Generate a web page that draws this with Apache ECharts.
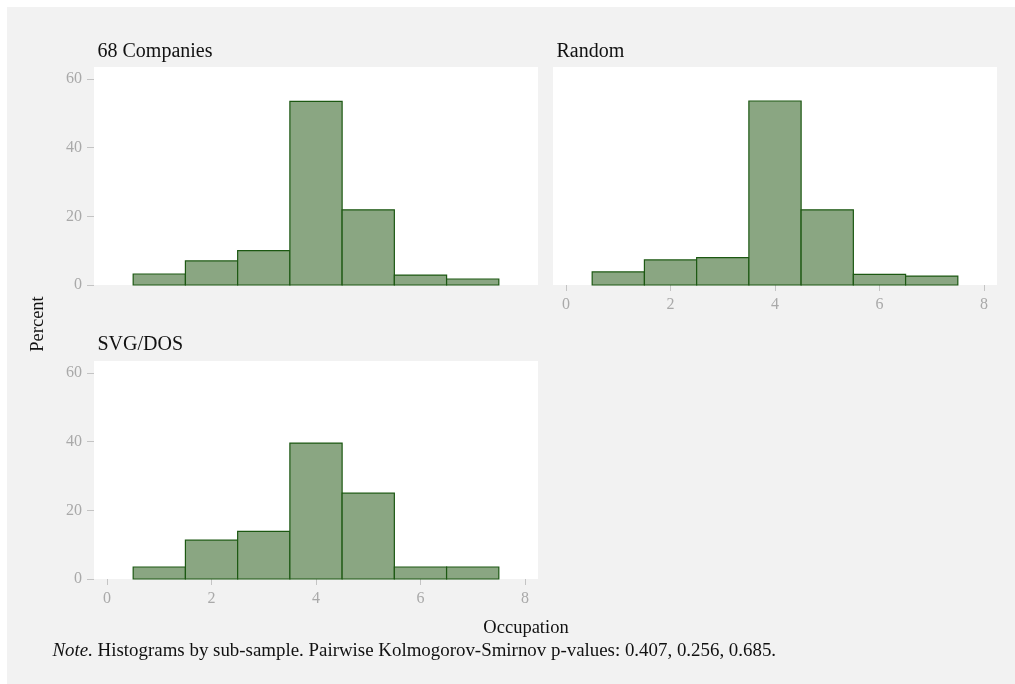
<!DOCTYPE html>
<html>
<head>
<meta charset="utf-8">
<script src="https://cdn.jsdelivr.net/npm/echarts@6/dist/echarts.min.js"></script>
<style>
html,body{margin:0;padding:0;background:#ffffff;}
#chart{position:absolute;left:7px;top:7px;width:1008px;height:677px;}
</style>
</head>
<body>
<div id="chart"></div>
<script>
// Data
const occupation = [1, 2, 3, 4, 5, 6, 7];
const panelTitles = ['68 Companies', 'Random', 'SVG/DOS'];
const companies = [3.2, 7.0, 10.0, 53.5, 21.9, 2.9, 1.75];
const randomSample = [3.8, 7.3, 8.0, 53.6, 21.9, 3.1, 2.6];
const svgdos = [3.5, 11.3, 13.9, 39.6, 25.0, 3.5, 3.5];
const yTicks = [0, 20, 40, 60];
const xTicks = [0, 2, 4, 6, 8];
const yLabel = 'Percent';
const xLabel = 'Occupation';
const noteText = 'Histograms by sub-sample. Pairwise Kolmogorov-Smirnov p-values: 0.407, 0.256, 0.685.';

const FONT = "'Liberation Serif', 'Times New Roman', serif";
const chart = echarts.init(document.getElementById('chart'), null, {renderer: 'canvas'});

function histData(vals) {
  return occupation.map((o, i) => [o - 0.5, o + 0.5, vals[i]]);
}

const grids = [
  {left: 87, top: 60, width: 444, height: 218},
  {left: 546, top: 60, width: 444, height: 218},
  {left: 87, top: 354, width: 444, height: 218}
].map(g => Object.assign({show: true, backgroundColor: '#ffffff', borderWidth: 0}, g));

function xAxisFor(idx, showLabels) {
  return {
    type: 'value', gridIndex: idx, min: -0.25, max: 8.25,
    axisLine: {show: false, onZero: false},
    splitLine: {show: false},
    axisTick: {show: showLabels, length: 6, lineStyle: {color: '#c4c4c4', width: 1}, customValues: xTicks},
    axisLabel: {show: showLabels, margin: 12, color: '#a9a9a9', fontFamily: FONT, fontSize: 16, customValues: xTicks}
  };
}
function yAxisFor(idx, showLabels) {
  return {
    type: 'value', gridIndex: idx, min: 0, max: 63.5,
    axisLine: {show: false, onZero: false},
    splitLine: {show: false},
    axisTick: {show: showLabels, length: 7, lineStyle: {color: '#c4c4c4', width: 1}, customValues: yTicks},
    axisLabel: {show: showLabels, margin: 12, color: '#a9a9a9', fontFamily: FONT, fontSize: 16, customValues: yTicks}
  };
}

function histSeries(idx, vals, name) {
  return {
    type: 'custom', name: name, xAxisIndex: idx, yAxisIndex: idx,
    data: histData(vals),
    encode: {x: [0, 1], y: 2},
    renderItem: function (params, api) {
      const p0 = api.coord([api.value(0), api.value(2)]);
      const p1 = api.coord([api.value(1), 0]);
      return {
        type: 'rect',
        shape: {x: p0[0], y: p0[1], width: p1[0] - p0[0], height: p1[1] - p0[1]},
        style: {fill: '#8aa682', stroke: '#1c5812', lineWidth: 1.2}
      };
    }
  };
}

const titleStyle = {fontFamily: FONT, fontSize: 20, fill: '#111111'};

const option = {
  backgroundColor: '#f2f2f2',
  animation: false,
  grid: grids,
  xAxis: [xAxisFor(0, false), xAxisFor(1, true), xAxisFor(2, true)],
  yAxis: [yAxisFor(0, true), yAxisFor(1, false), yAxisFor(2, true)],
  series: [
    histSeries(0, companies, panelTitles[0]),
    histSeries(1, randomSample, panelTitles[1]),
    histSeries(2, svgdos, panelTitles[2])
  ],
  graphic: [
    {type: 'text', left: 90.5, top: 35, style: Object.assign({text: panelTitles[0]}, titleStyle)},
    {type: 'text', left: 549.5, top: 35, style: Object.assign({text: panelTitles[1]}, titleStyle)},
    {type: 'text', left: 90.5, top: 328, style: Object.assign({text: panelTitles[2]}, titleStyle)},
    {type: 'text', x: 31.5, y: 317, rotation: Math.PI / 2,
     style: {text: yLabel, fontFamily: FONT, fontSize: 18.5, fill: '#111111', align: 'center', verticalAlign: 'middle'}},
    {type: 'text', x: 519, y: 621, style: {text: xLabel, fontFamily: FONT, fontSize: 18.5, fill: '#111111', align: 'center', verticalAlign: 'middle'}},
    {type: 'text', x: 45.5, y: 644,
     style: {text: '{i|Note.} ' + noteText, fontFamily: FONT, fontSize: 18.9, fill: '#111111', align: 'left', verticalAlign: 'middle',
       rich: {i: {fontStyle: 'italic', fontFamily: FONT, fontSize: 18.9, fill: '#111111'}}}}
  ]
};
chart.setOption(option);
</script>
</body>
</html>
